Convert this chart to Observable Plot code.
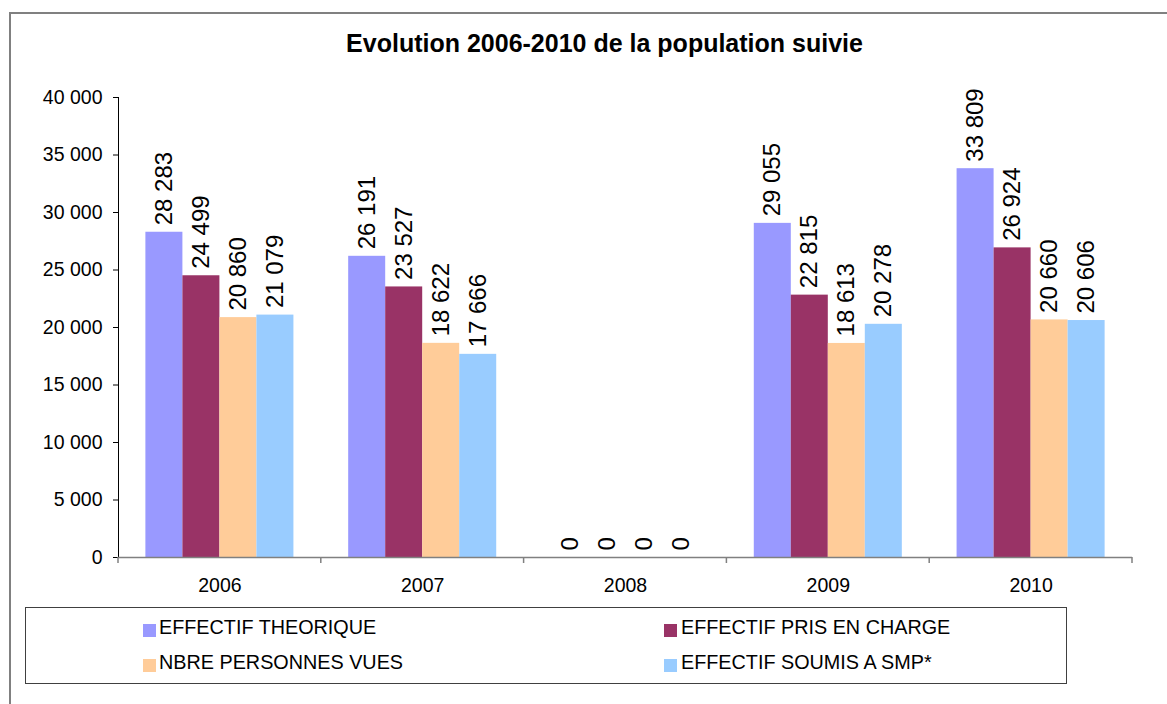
<!DOCTYPE html>
<html>
<head>
<meta charset="utf-8">
<script src="https://cdn.jsdelivr.net/npm/d3@7"></script>
<script src="https://cdn.jsdelivr.net/npm/@observablehq/plot@0.6"></script>
<style>
  html, body { margin: 0; padding: 0; background: #fff; }
  #wrap { position: relative; width: 1167px; height: 704px; overflow: hidden; font-family: "Liberation Sans", Arial, sans-serif; }
  #frame { position: absolute; left: 9px; top: 12px; width: 1200px; height: 760px; border: 2px solid #808080; box-sizing: border-box; }
  #title { position: absolute; left: 21px; top: 31px; width: 1167px; text-align: center; font-weight: bold; font-size: 25px; line-height: 25px; color: #000; white-space: nowrap; }
  #chart { position: absolute; left: 0; top: 0; }
  #legend { position: absolute; left: 25px; top: 607px; width: 1042px; height: 77px; border: 1.5px solid #404040; box-sizing: border-box; }
  .sw { position: absolute; width: 13px; height: 13px; }
  .lt { position: absolute; font-size: 19.8px; line-height: 20px; color: #000; white-space: nowrap; }
</style>
</head>
<body>
<div id="wrap">
  <div id="frame"></div>
  <div id="title">Evolution 2006-2010 de la population suivie</div>
  <div id="chart"></div>
  <div id="legend"></div>
</div>
<script>
const years = ["2006", "2007", "2008", "2009", "2010"];
const series = ["EFFECTIF THEORIQUE", "EFFECTIF PRIS EN CHARGE", "NBRE PERSONNES VUES", "EFFECTIF SOUMIS A SMP*"];
const colors = ["#9999FF", "#993366", "#FFCC99", "#99CCFF"];
const effectifTheorique = [28283, 26191, 0, 29055, 33809];
const effectifPrisEnCharge = [24499, 23527, 0, 22815, 26924];
const nbrePersonnesVues = [20860, 18622, 0, 18613, 20660];
const effectifSoumisSmp = [21079, 17666, 0, 20278, 20606];
const yTicks = [0, 5000, 10000, 15000, 20000, 25000, 30000, 35000, 40000];

const seriesValues = [effectifTheorique, effectifPrisEnCharge, nbrePersonnesVues, effectifSoumisSmp];
const data = [];
years.forEach((yr, i) => {
  series.forEach((s, k) => data.push({year: yr, series: s, value: seriesValues[k][i]}));
});

const fmt = v => d3.format(",")(v).replace(/,/g, " ");

const W = 1167, H = 600, ML = 118, MR = 35, MT = 97, MB = 43;

const chart = Plot.plot({
  width: W, height: H,
  marginLeft: ML, marginRight: MR, marginTop: MT, marginBottom: MB,
  style: {fontFamily: "Liberation Sans, Arial, sans-serif", fontSize: "19.5px", color: "#000", background: "transparent", overflow: "visible"},
  facet: {data, x: "year"},
  fx: {domain: years, padding: 0, round: false, label: null, axis: "bottom", tickSize: 0, tickPadding: 21},
  x: {domain: series, paddingInner: 0, paddingOuter: 0.74, round: false, axis: null},
  y: {domain: [0, 40000], ticks: yTicks, tickFormat: fmt, label: null, tickSize: 5, tickPadding: 11, line: true},
  color: {domain: series, range: colors},
  marks: [
    Plot.barY(data, {x: "series", y: "value", fill: "series"}),
    Plot.text(data, {x: "series", y: "value", text: d => fmt(d.value), rotate: -90, textAnchor: "start", lineAnchor: "middle", dy: -7, fontSize: 24, fill: "#000"}),
    Plot.ruleY([0], {stroke: "#808080", strokeWidth: 1.5})
  ]
});
document.getElementById("chart").appendChild(chart);

// Category boundary ticks (Excel style) from the fx scale
const fxs = chart.scale("fx");
const band = d3.scaleBand().domain(fxs.domain).range(fxs.range).padding(0);
const svg = d3.select(chart.tagName.toLowerCase() === "svg" ? chart : chart.querySelector("svg"));
const ys = chart.scale("y");
const y0 = d3.scaleLinear().domain(ys.domain).range(ys.range)(0);
const bounds = fxs.domain.map(d => band(d)).concat([band(fxs.domain[fxs.domain.length - 1]) + band.bandwidth()]);
svg.append("g").selectAll("line").data(bounds).join("line")
  .attr("x1", d => d).attr("x2", d => d)
  .attr("y1", y0).attr("y2", y0 + 6)
  .attr("stroke", "#808080").attr("stroke-width", 1.5);

// Legend
const legend = document.getElementById("legend");
const pos = [[117, 16, 133], [638, 16, 655], [117, 51, 133], [638, 51, 655]];
series.forEach((s, k) => {
  const [sx, sy, tx] = pos[k];
  const sw = document.createElement("div");
  sw.className = "sw";
  sw.style.left = sx + "px"; sw.style.top = sy + "px"; sw.style.background = colors[k];
  legend.appendChild(sw);
  const t = document.createElement("div");
  t.className = "lt";
  t.style.left = tx + "px"; t.style.top = (sy - 7) + "px";
  t.textContent = s;
  legend.appendChild(t);
});
</script>
</body>
</html>
